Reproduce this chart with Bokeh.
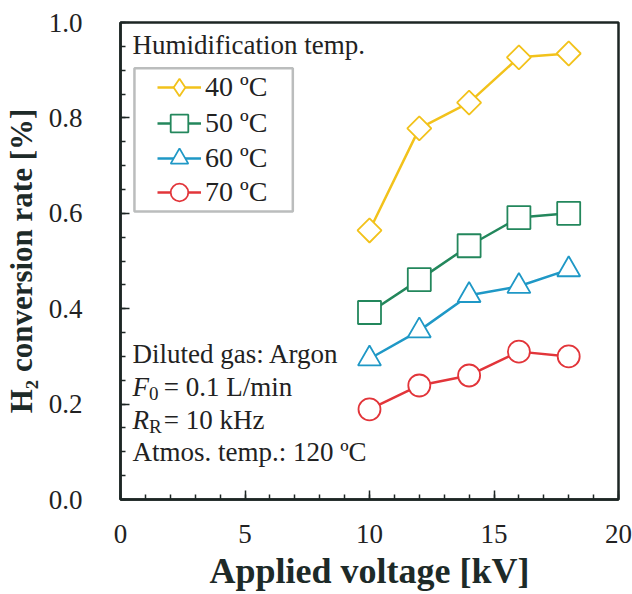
import math
from bokeh.plotting import figure
from bokeh.models import (Range1d, FixedTicker, Legend, LegendItem, Label,
                          BoxAnnotation, PrintfTickFormatter)
from bokeh.embed import file_html
from bokeh.resources import INLINE

# ---- data ----
voltage = [10, 12, 14, 16, 18]
rate_40 = [0.564, 0.778, 0.832, 0.927, 0.935]
rate_50 = [0.392, 0.461, 0.532, 0.591, 0.600]
rate_60 = [0.295, 0.354, 0.428, 0.447, 0.482]
rate_70 = [0.189, 0.239, 0.260, 0.310, 0.300]
series_labels = ["40 ºC", "50 ºC", "60 ºC", "70 ºC"]
x_ticks = [0, 5, 10, 15, 20]
x_minor = list(range(0, 21))
y_ticks = [0.0, 0.2, 0.4, 0.6, 0.8, 1.0]
y_minor = [round(i * 0.05, 2) for i in range(21)]

INK = "#1d2624"
SERIF = "Liberation Serif"
colors = ["#f2c21b", "#23875c", "#1f98c6", "#e2353a"]
markers = ["square", "square", "triangle", "circle"]
legend_markers = ["diamond", "square", "triangle", "circle"]
angles = [math.pi / 4, 0, 0, 0]
sizes = [17, 23, 23, 22]
series = [rate_40, rate_50, rate_60, rate_70]
legend_bottoms = [390, 354, 319, 285]   # screen px above the frame bottom

p = figure(width=632, height=594, x_range=Range1d(0, 20), y_range=Range1d(0, 1.0),
           output_backend="svg", toolbar_location=None,
           min_border_left=118, min_border_right=14, min_border_top=22, min_border_bottom=95)
p.xgrid.visible = False
p.ygrid.visible = False
p.outline_line_color = INK
p.outline_line_width = 2.5
p.outline_line_alpha = 1.0
p.background_fill_color = "white"
p.border_fill_color = "white"

for ax in (p.xaxis[0], p.yaxis[0]):
    ax.axis_line_color = INK
    ax.axis_line_width = 2.5
    ax.major_tick_in = 9
    ax.major_tick_out = 0
    ax.minor_tick_in = 5
    ax.minor_tick_out = 0
    ax.major_tick_line_color = INK
    ax.minor_tick_line_color = INK
    ax.major_tick_line_width = 1.5
    ax.minor_tick_line_width = 1.5
    ax.major_label_text_font = SERIF
    ax.major_label_text_font_size = "27px"
    ax.major_label_text_color = "#222222"
    ax.axis_label_text_font = SERIF
    ax.axis_label_text_font_style = "bold"
    ax.axis_label_text_color = "#1d2a28"

p.xaxis.ticker = FixedTicker(ticks=x_ticks, minor_ticks=x_minor)
p.yaxis.ticker = FixedTicker(ticks=y_ticks, minor_ticks=y_minor)
p.xaxis.formatter = PrintfTickFormatter(format="%d")
p.yaxis.formatter = PrintfTickFormatter(format="%.1f")
p.xaxis.major_label_standoff = 25
p.yaxis.major_label_standoff = 38
p.xaxis.axis_label = "Applied voltage [kV]"
p.xaxis.axis_label_text_font_size = "36px"
p.xaxis.axis_label_standoff = 5
p.yaxis.axis_label = "H\u2082 conversion rate [%]"
p.yaxis.axis_label_text_font_size = "31px"
p.yaxis.axis_label_standoff = 7

for ys, c, m, lm, a, s, lab, vb in zip(series, colors, markers, legend_markers, angles,
                                       sizes, series_labels, legend_bottoms):
    ln = p.line(voltage, ys, line_color=c, line_width=2.5)
    rends = [ln]
    if lm != m:
        # legend key glyph: a diamond drawn underneath (hidden by) the rotated squares
        key = p.scatter(voltage, ys, marker=lm, size=s, line_color=c,
                        line_width=1.8, fill_color="white")
        rends.append(key)
    sc = p.scatter(voltage, ys, marker=m, angle=a, size=s, line_color=c,
                   line_width=1.8, fill_color="white")
    if lm == m:
        rends.append(sc)
    lg = Legend(items=[LegendItem(label=lab, renderers=rends)], location=(37, vb),
                padding=0, spacing=0, glyph_width=44, glyph_height=44, label_standoff=4,
                label_text_font=SERIF, label_text_font_size="28px",
                label_text_color="#222222", border_line_alpha=0,
                background_fill_alpha=0, margin=0)
    p.add_layout(lg)

p.add_layout(BoxAnnotation(left=0.56, right=6.92, bottom=0.604, top=0.904,
                           fill_alpha=0, line_color=INK, line_width=2.5))

def txt(x, y, t, size="27px", style="normal"):
    p.add_layout(Label(x=x, y=y, text=t, text_font=SERIF, text_font_size=size,
                       text_font_style=style, text_color="#222222",
                       text_baseline="alphabetic", text_align="left"))

txt(0.48, 0.952, "Humidification temp.")
txt(0.48, 0.304, "Diluted gas: Argon")
txt(0.48, 0.235, "F", style="italic")
txt(1.14, 0.223, "0", size="19px")
txt(1.74, 0.235, "= 0.1 L/min")
txt(0.48, 0.166, "R", style="italic")
txt(1.14, 0.154, "R", size="19px")
txt(1.74, 0.166, "= 10 kHz")
txt(0.48, 0.099, "Atmos. temp.: 120 ºC")

open("out.html", "w").write(file_html(p, INLINE))
